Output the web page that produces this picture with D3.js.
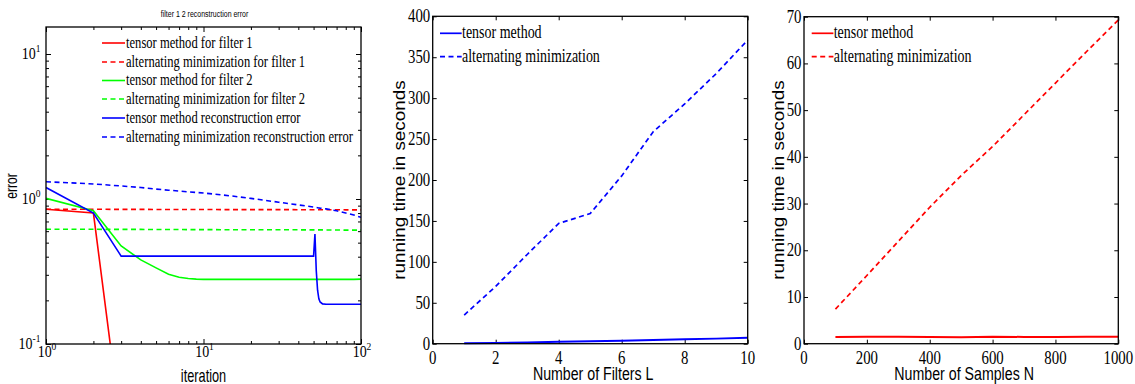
<!DOCTYPE html>
<html><head><meta charset="utf-8">
<script src="https://cdn.jsdelivr.net/npm/d3@7"></script>
<style>body{margin:0;background:#fff}svg{display:block}</style>
</head><body>
<svg id="c" width="1135" height="384"></svg>
<script>
// ---------- data ----------
const iterations = [1,2,3,4,5,6,7,8,9,10,15,20,30,40,50,51,52,53,54,55,57,60,70,80,90,100];
const tensorF1   = [0.85,0.80,0.026,0.004,0.002,0.001,0.001,0.001,0.001,0.001,0.001,0.001,0.001,0.001,0.001,0.001,0.001,0.001,0.001,0.001,0.001,0.001,0.001,0.001,0.001,0.001];
const altMinF1   = [0.85,0.85,0.848,0.848,0.847,0.847,0.847,0.846,0.846,0.846,0.845,0.845,0.845,0.844,0.844,0.844,0.844,0.844,0.844,0.844,0.843,0.843,0.843,0.842,0.842,0.842];
const tensorF2   = [1.01,0.83,0.475,0.38,0.335,0.303,0.289,0.283,0.28,0.279,0.279,0.279,0.279,0.279,0.279,0.279,0.279,0.279,0.279,0.279,0.279,0.279,0.279,0.279,0.279,0.28];
const altMinF2   = [0.618,0.618,0.617,0.617,0.616,0.616,0.616,0.615,0.615,0.615,0.614,0.614,0.613,0.613,0.612,0.612,0.612,0.612,0.612,0.612,0.612,0.611,0.611,0.61,0.61,0.61];
const tensorRec  = [1.2,0.80,0.404,0.404,0.404,0.404,0.404,0.404,0.404,0.404,0.404,0.404,0.404,0.404,0.404,0.574,0.32,0.235,0.205,0.195,0.189,0.188,0.188,0.188,0.188,0.188];
const altMinRec  = [1.316,1.27,1.23,1.2,1.17,1.15,1.135,1.12,1.11,1.10,1.05,1.01,0.95,0.91,0.88,0.877,0.874,0.871,0.868,0.865,0.86,0.855,0.83,0.80,0.775,0.748];
const leftLegend = ["tensor method for filter 1","alternating minimization for filter 1","tensor method for filter 2","alternating minimization for filter 2","tensor method reconstruction error","alternating minimization reconstruction error"];

const filtersL   = [1,2,3,4,5,6,7,8,9,10];
const tensorL    = [0.5,1.0,1.6,2.3,3.0,3.7,4.5,5.3,6.2,7.2];
const altMinL    = [35,70,109,147,159,205,259,293,330,371];

const samplesN   = [100,200,300,400,500,600,700,800,900,1000];
const tensorN    = [1.45,1.5,1.5,1.45,1.4,1.5,1.45,1.45,1.5,1.5];
const altMinN    = [7.4,14.6,21.9,29.2,36.0,42.2,49.0,55.8,62.6,69.3];

const midLegend  = ["tensor method","alternating minimization"];
const midXTicks  = [0,2,4,6,8,10];
const midYTicks  = [0,50,100,150,200,250,300,350,400];
const rightXTicks= [0,200,400,600,800,1000];
const rightYTicks= [0,10,20,30,40,50,60,70];

// ---------- helpers ----------
const svg = d3.select("#c");
const SERIF = "'Liberation Serif','Times New Roman',serif";
const SANS = "'Liberation Sans',Arial,sans-serif";
function txt(g, x, y, s, o) {
  return g.append("text")
    .attr("transform", `translate(${x},${y}) rotate(${o.rot||0}) scale(${o.sx||1},${o.sy||1})`)
    .attr("text-anchor", o.anchor || "start")
    .style("font-family", o.family || SERIF)
    .style("font-size", o.size + "px")
    .attr("fill", "#000")
    .text(s);
}
function ticks(g, axis, tx, ty) {
  const a = g.append("g").attr("transform", `translate(${tx},${ty})`).call(axis);
  a.select(".domain").remove();
  a.selectAll("text").remove();
  a.selectAll("line").attr("stroke", "#000").attr("stroke-width", 1);
}
function box(g, x0, y0, x1, y1) {
  g.append("rect").attr("x", x0).attr("y", y0).attr("width", x1 - x0).attr("height", y1 - y0)
    .attr("fill", "none").attr("stroke", "#000").attr("stroke-width", 1.3);
}
const DASH = "5,3.5";

// ---------- left panel ----------
{
  const g = svg.append("g");
  const X0 = 46, X1 = 361, Y0 = 27, Y1 = 344;
  const x = d3.scaleLog().domain([1, 100]).range([X0, X1]);
  const y = d3.scaleLog().domain([0.1, 10]).range([344, 54]);
  const yTop = y.invert(Y0);
  const majX = [1, 10, 100], minX = [2,3,4,5,6,7,8,9,20,30,40,50,60,70,80,90];
  const majY = [0.1, 1, 10], minY = [0.2,0.3,0.4,0.5,0.6,0.7,0.8,0.9,2,3,4,5,6,7,8,9].filter(v => v < yTop);
  ticks(g, d3.axisBottom(x).tickValues(majX).tickSize(-5).tickSizeOuter(0), 0, Y1);
  ticks(g, d3.axisBottom(x).tickValues(minX).tickSize(-3).tickSizeOuter(0), 0, Y1);
  ticks(g, d3.axisTop(x).tickValues(majX).tickSize(-5).tickSizeOuter(0), 0, Y0);
  ticks(g, d3.axisTop(x).tickValues(minX).tickSize(-3).tickSizeOuter(0), 0, Y0);
  ticks(g, d3.axisLeft(y).tickValues(majY).tickSize(-5).tickSizeOuter(0), X0, 0);
  ticks(g, d3.axisLeft(y).tickValues(minY).tickSize(-3).tickSizeOuter(0), X0, 0);
  ticks(g, d3.axisRight(y).tickValues(majY).tickSize(-5).tickSizeOuter(0), X1, 0);
  ticks(g, d3.axisRight(y).tickValues(minY).tickSize(-3).tickSizeOuter(0), X1, 0);

  g.append("clipPath").attr("id", "clipL").append("rect")
    .attr("x", X0).attr("y", Y0).attr("width", X1 - X0).attr("height", Y1 - Y0);
  const series = [
    {v: tensorF1, c: "#ff0000", d: null},
    {v: altMinF1, c: "#ff0000", d: DASH},
    {v: tensorF2, c: "#00ff00", d: null},
    {v: altMinF2, c: "#00ff00", d: DASH},
    {v: tensorRec, c: "#0000ff", d: null},
    {v: altMinRec, c: "#0000ff", d: DASH}
  ];
  const line = d3.line().x((d, i) => x(iterations[i])).y(d => y(d));
  const pg = g.append("g").attr("clip-path", "url(#clipL)");
  series.forEach(s => {
    pg.append("path").attr("d", line(s.v)).attr("fill", "none").attr("stroke", s.c)
      .attr("stroke-width", 1.6).attr("stroke-dasharray", s.d);
  });
  box(g, X0, Y0, X1, Y1);

  // tick labels (10^n)
  const supLabel = (px, py, exp, anchor) => {
    const t = g.append("text").attr("transform", `translate(${px},${py}) scale(1,1.2)`)
      .attr("text-anchor", anchor).style("font-family", SERIF).style("font-size", "14px").attr("fill", "#000");
    t.append("tspan").text("10");
    t.append("tspan").attr("dy", -6).style("font-size", "9.5px").text(exp);
  };
  majX.forEach(v => supLabel(x(v) + 1, 357, String(Math.round(Math.log10(v))), "middle"));
  majY.forEach(v => supLabel(40.5, y(v) + 5, String(Math.round(Math.log10(v))), "end"));

  txt(g, (X0 + X1) / 2 + 1, 17, "filter 1 2 reconstruction error", {size: 7, family: SANS, anchor: "middle", sy: 1.3});
  txt(g, (X0 + X1) / 2, 382, "iteration", {size: 15, family: SANS, anchor: "middle", sx: 0.85, sy: 1.2});
  txt(g, 17, 186, "error", {size: 15, family: SANS, anchor: "middle", rot: -90, sx: 0.8, sy: 1.15});

  // legend
  const rows = [43, 62, 80.5, 99, 118, 137];
  series.forEach((s, i) => {
    g.append("line").attr("x1", 102).attr("x2", 125).attr("y1", rows[i]).attr("y2", rows[i])
      .attr("stroke", s.c).attr("stroke-width", 1.6).attr("stroke-dasharray", s.d);
    txt(g, 126, rows[i] + 4.5, leftLegend[i], {size: 12.6, sy: 1.32});
  });
}

// ---------- linear panels ----------
function linearPanel(o) {
  const g = svg.append("g");
  const x = d3.scaleLinear().domain(o.xd).range([o.X0, o.X1]);
  const y = d3.scaleLinear().domain(o.yd).range([o.Y1, o.Y0]);
  ticks(g, d3.axisBottom(x).tickValues(o.xt).tickSize(-4).tickSizeOuter(0), 0, o.Y1);
  ticks(g, d3.axisTop(x).tickValues(o.xt).tickSize(-4).tickSizeOuter(0), 0, o.Y0);
  ticks(g, d3.axisLeft(y).tickValues(o.yt).tickSize(-4).tickSizeOuter(0), o.X0, 0);
  ticks(g, d3.axisRight(y).tickValues(o.yt).tickSize(-4).tickSizeOuter(0), o.X1, 0);

  const line = d3.line().x((d, i) => x(o.xs[i])).y(d => y(d));
  g.append("path").attr("d", line(o.solid)).attr("fill", "none").attr("stroke", o.color).attr("stroke-width", 2);
  g.append("path").attr("d", line(o.dashed)).attr("fill", "none").attr("stroke", o.color).attr("stroke-width", 1.7).attr("stroke-dasharray", DASH);
  box(g, o.X0, o.Y0, o.X1, o.Y1);

  o.xt.forEach(v => txt(g, x(v), 363.5, String(v), {size: 14.8, anchor: "middle", sy: 1.3}));
  o.yt.forEach(v => txt(g, o.X0 - 2.5, y(v) + 6, String(v), {size: 14.8, anchor: "end", sy: 1.3}));

  txt(g, (o.X0 + o.X1) / 2 + 3, 380, o.xlabel, {size: 14.2, family: SANS, anchor: "middle", sy: 1.3});
  txt(g, o.ylx, 180, "running time in seconds", {size: 15.5, family: SANS, anchor: "middle", rot: -90, sx: 1.22, sy: 1.05});

  const rows = [33.3, 56.7];
  [null, DASH].forEach((d, i) => {
    g.append("line").attr("x1", o.lx).attr("x2", o.lx + 21.7).attr("y1", rows[i]).attr("y2", rows[i])
      .attr("stroke", o.color).attr("stroke-width", 1.7).attr("stroke-dasharray", d);
    txt(g, o.lx + 22, rows[i] + 4.8, midLegend[i], {size: 14, sy: 1.32});
  });
}
linearPanel({X0: 432.7, X1: 747.7, Y0: 16.3, Y1: 343.7, xd: [0, 10], yd: [0, 400], xt: midXTicks, yt: midYTicks,
  xs: filtersL, solid: tensorL, dashed: altMinL, color: "#0000ff", xlabel: "Number of Filters L", ylx: 404.5, lx: 440});
linearPanel({X0: 804, X1: 1118.3, Y0: 16.7, Y1: 343.7, xd: [0, 1000], yd: [0, 70], xt: rightXTicks, yt: rightYTicks,
  xs: samplesN, solid: tensorN, dashed: altMinN, color: "#ff0000", xlabel: "Number of Samples N", ylx: 783.5, lx: 811.7});
</script>
</body></html>
